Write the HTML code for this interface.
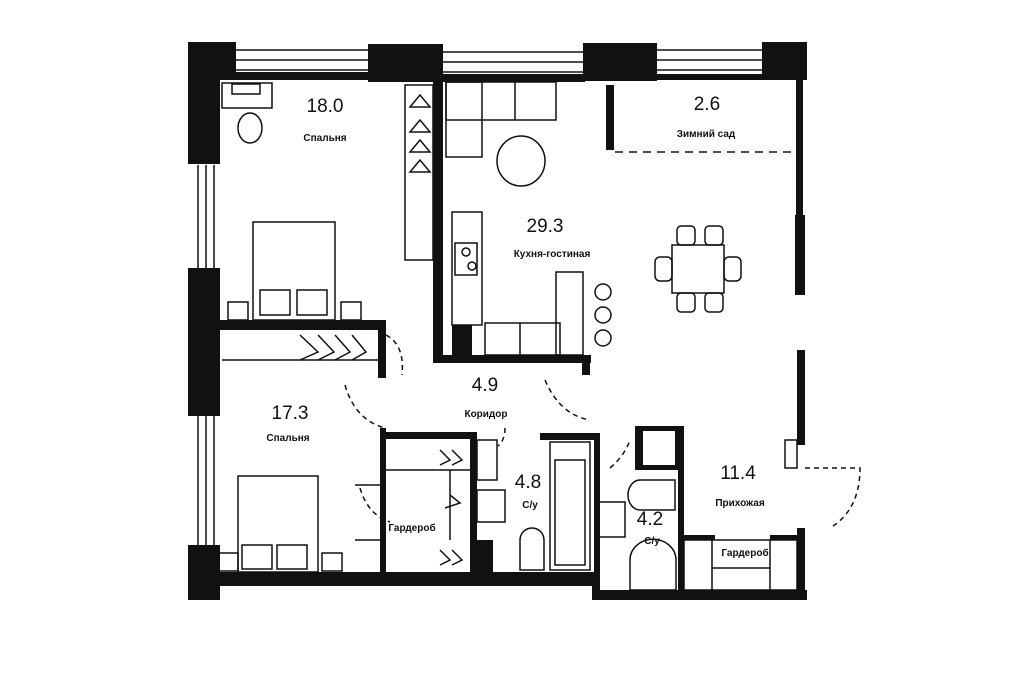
<!DOCTYPE html>
<html><head><meta charset="utf-8"><style>
html,body{margin:0;padding:0;background:#fff;}
svg{display:block}
text{font-family:"Liberation Sans","DejaVu Sans",sans-serif;fill:#111;text-anchor:middle}
.n{font-size:19px}
.l{font-size:10px;font-weight:bold}
</style></head><body>
<svg width="1024" height="682" viewBox="0 0 1024 682" xmlns="http://www.w3.org/2000/svg">
<g fill="#111">
<!-- top wall blocks -->
<rect x="188" y="42" width="48" height="38"/>
<rect x="368" y="44" width="75" height="38"/>
<rect x="583" y="43" width="74" height="38"/>
<rect x="762" y="42" width="45" height="38"/>
<rect x="220" y="72" width="150" height="8"/>
<rect x="440" y="74" width="145" height="8"/>
<rect x="655" y="74" width="110" height="6"/>
<!-- left wall -->
<rect x="188" y="42" width="32" height="122"/>
<rect x="188" y="268" width="32" height="148"/>
<rect x="188" y="545" width="32" height="55"/>
<!-- bottom -->
<rect x="188" y="572" width="412" height="14"/>
<rect x="592" y="590" width="215" height="10"/>
<rect x="592" y="572" width="8" height="28"/>
<!-- right wall -->
<rect x="796" y="80" width="7" height="135"/>
<rect x="795" y="215" width="10" height="80"/>
<rect x="797" y="350" width="8" height="95"/>
<rect x="797" y="528" width="8" height="72"/>
<!-- interior -->
<rect x="220" y="320" width="166" height="10"/>
<rect x="378" y="320" width="8" height="58"/>
<rect x="433" y="82" width="10" height="280"/>
<rect x="433" y="355" width="158" height="8"/>
<rect x="582" y="355" width="8" height="20"/>
<rect x="380" y="428" width="6" height="146"/>
<rect x="380" y="432" width="96" height="7"/>
<rect x="470" y="432" width="7" height="142"/>
<rect x="540" y="433" width="58" height="7"/>
<rect x="594" y="433" width="6" height="140"/>
<rect x="635" y="426" width="45" height="44"/>
<rect x="678" y="426" width="6" height="170"/>
<rect x="680" y="535" width="35" height="5"/>
<rect x="770" y="535" width="30" height="5"/>
<rect x="452" y="325" width="20" height="33"/>
<rect x="475" y="540" width="18" height="32"/>
<rect x="606" y="85" width="8" height="65"/>
</g>
<g fill="#fff"><rect x="643" y="431" width="32" height="34"/><rect x="192" y="170" width="24" height="95"/><rect x="192" y="420" width="24" height="122"/></g>
<g stroke="#111" stroke-width="1.5" fill="none">
<!-- window lines -->
<line x1="236" y1="50" x2="368" y2="50"/><line x1="236" y1="60" x2="368" y2="60"/><line x1="236" y1="70" x2="368" y2="70"/>
<line x1="443" y1="52" x2="583" y2="52"/><line x1="443" y1="62" x2="583" y2="62"/><line x1="443" y1="72" x2="583" y2="72"/>
<line x1="657" y1="50" x2="762" y2="50"/><line x1="657" y1="60" x2="762" y2="60"/><line x1="657" y1="70" x2="762" y2="70"/>
<line x1="198" y1="165" x2="198" y2="268"/><line x1="206" y1="165" x2="206" y2="268"/><line x1="214" y1="165" x2="214" y2="268"/>
<line x1="198" y1="416" x2="198" y2="545"/><line x1="206" y1="416" x2="206" y2="545"/><line x1="214" y1="416" x2="214" y2="545"/>
<!-- bedroom 1 -->
<rect x="222" y="83" width="50" height="25"/><rect x="232" y="84" width="28" height="10"/>
<ellipse cx="250" cy="128" rx="12" ry="15"/>
<rect x="253" y="222" width="82" height="98"/>
<rect x="260" y="290" width="30" height="25"/><rect x="297" y="290" width="30" height="25"/>
<rect x="228" y="302" width="20" height="18"/><rect x="341" y="302" width="20" height="18"/>
<line x1="222" y1="360" x2="380" y2="360"/>
<path d="M300 335 L318 352 L300 360 M318 335 L334 352 L318 360 M335 335 L350 352 L335 360 M352 335 L366 352 L352 360"/>
<rect x="405" y="85" width="28" height="175"/>
<path d="M420 95 l-10 12 h20z M420 120 l-10 12 h20z M420 140 l-10 12 h20z M420 160 l-10 12 h20z"/>
<!-- living -->
<rect x="446" y="82" width="110" height="38"/><rect x="446" y="82" width="36" height="75"/>
<line x1="515" y1="82" x2="515" y2="120"/>
<ellipse cx="521" cy="161" rx="24" ry="25"/>
<rect x="452" y="212" width="30" height="113"/><rect x="455" y="243" width="22" height="32"/>
<circle cx="466" cy="252" r="4"/><circle cx="472" cy="266" r="4"/>
<rect x="485" y="323" width="75" height="32"/><line x1="520" y1="323" x2="520" y2="355"/>
<rect x="556" y="272" width="27" height="83"/>
<circle cx="603" cy="292" r="8"/><circle cx="603" cy="315" r="8"/><circle cx="603" cy="338" r="8"/>
<rect x="672" y="245" width="52" height="48"/>
<rect x="677" y="226" width="18" height="19" rx="4"/><rect x="705" y="226" width="18" height="19" rx="4"/>
<rect x="677" y="293" width="18" height="19" rx="4"/><rect x="705" y="293" width="18" height="19" rx="4"/>
<rect x="655" y="257" width="17" height="24" rx="5"/><rect x="724" y="257" width="17" height="24" rx="5"/>
<line x1="615" y1="152" x2="796" y2="152" stroke-dasharray="8,6"/>
<!-- doors dashed arcs -->
<g stroke-dasharray="5,4">
<path d="M386 335 Q405 345 402 375"/>
<path d="M345 385 Q355 420 385 428"/>
<path d="M545 380 Q560 415 590 420"/>
<path d="M505 428 Q505 440 498 446"/>
<path d="M360 488 Q368 515 390 522"/>
<path d="M610 468 Q625 455 630 440"/>
<path d="M805 468 L860 468 Q860 510 830 528"/>
</g>
<!-- bedroom 2 -->
<rect x="238" y="476" width="80" height="96"/>
<rect x="242" y="545" width="30" height="24"/><rect x="277" y="545" width="30" height="24"/>
<rect x="218" y="553" width="20" height="18"/><rect x="322" y="553" width="20" height="18"/>
<path d="M355 485 L385 485 L385 540 L355 540"/>
<line x1="386" y1="470" x2="470" y2="470"/><line x1="450" y1="470" x2="450" y2="540"/>
<path d="M440 450 l10 10 l-10 5 M452 450 l10 10 l-10 5 M440 550 l10 10 l-10 5 M452 550 l10 10 l-10 5 M450 495 l10 8 l-15 5"/>
<rect x="477" y="440" width="20" height="40"/>
<rect x="477" y="490" width="28" height="32"/>
<path d="M520 570 v-30 a12 12 0 0 1 24 0 v30z"/>
<rect x="550" y="442" width="40" height="128"/><rect x="555" y="460" width="30" height="105"/>
<rect x="597" y="502" width="28" height="35"/>
<path d="M640 480 h35 v30 h-35 a12 15 0 0 1 0 -30z"/>
<path d="M630 590 v-30 a20 18 0 0 1 46 0 v30z"/>
<rect x="684" y="540" width="113" height="50"/>
<line x1="712" y1="540" x2="712" y2="590"/><line x1="770" y1="540" x2="770" y2="590"/>
<line x1="712" y1="568" x2="770" y2="568"/>
<rect x="785" y="440" width="12" height="28"/>
</g>
<text class="n" x="325" y="112">18.0</text><text class="l" x="325" y="141">Спальня</text>
<text class="n" x="545" y="232">29.3</text><text class="l" x="552" y="257">Кухня-гостиная</text>
<text class="n" x="707" y="110">2.6</text><text class="l" x="706" y="137">Зимний сад</text>
<text class="n" x="485" y="391">4.9</text><text class="l" x="486" y="417">Коридор</text>
<text class="n" x="290" y="419">17.3</text><text class="l" x="288" y="441">Спальня</text>
<text class="n" x="528" y="488">4.8</text><text class="l" x="530" y="508">С/у</text>
<text class="l" x="412" y="531">Гардероб</text>
<text class="n" x="650" y="525">4.2</text><text class="l" x="652" y="544">С/у</text>
<text class="n" x="738" y="479">11.4</text><text class="l" x="740" y="506">Прихожая</text>
<text class="l" x="745" y="556">Гардероб</text>
</svg>
</body></html>
